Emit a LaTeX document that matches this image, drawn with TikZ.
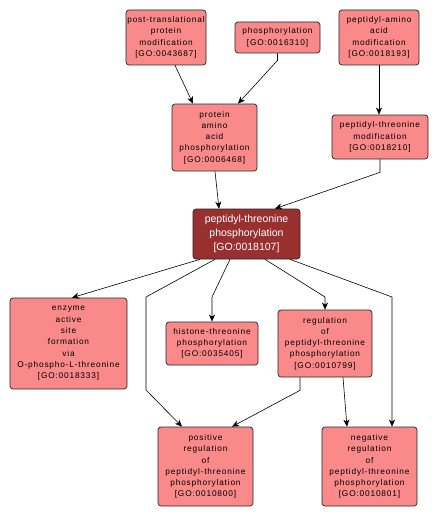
\documentclass[tikz,border=0pt]{standalone}
\usepackage{fontspec}
\setmainfont{Liberation Sans}
\newfontfamily\lblfont[LetterSpace=10]{Liberation Sans}
\usetikzlibrary{arrows.meta}
\definecolor{gofill}{RGB}{250,137,137}
\definecolor{godark}{RGB}{153,48,48}
\tikzset{
  goterm/.style={draw=black!85, line width=0.7pt, fill=gofill, rounded corners=3pt,
    align=center, inner sep=0pt, font=\lblfont\fontsize{8.3}{11.3}\selectfont},
  goroot/.style={draw=black!85, line width=0.7pt, fill=godark, rounded corners=3pt,
    align=center, inner sep=0pt, text=white, font=\fontsize{10.5}{14}\selectfont},
  arr/.style={draw=black, line width=0.6pt, -{Stealth[length=7pt,width=6pt,inset=2pt]}}
}
\begin{document}
\begin{tikzpicture}[x=1pt,y=-1pt]
\useasboundingbox (0,0) rectangle (438,519);
\fill[white] (0,0) rectangle (438,519);
\node[goterm, minimum width=80, minimum height=55] (n1) at (166,37.5) {post-translational\\protein\\modification\\{[}GO:0043687{]}};
\node[goterm, minimum width=85, minimum height=31] (n2) at (277.5,37.5) {phosphorylation\\{[}GO:0016310{]}};
\node[goterm, minimum width=80, minimum height=55] (n3) at (379,37.5) {peptidyl-amino\\acid\\modification\\{[}GO:0018193{]}};
\node[goterm, minimum width=85, minimum height=67] (n4) at (214.5,137.5) {protein\\amino\\acid\\phosphorylation\\{[}GO:0006468{]}};
\node[goterm, minimum width=96, minimum height=44] (n5) at (380,137) {peptidyl-threonine\\modification\\{[}GO:0018210{]}};
\node[goroot, minimum width=107, minimum height=50] (n6) at (246.5,234) {peptidyl-threonine\\phosphorylation\\{[}GO:0018107{]}};
\node[goterm, minimum width=117, minimum height=91] (n7) at (68.5,343.5) {enzyme\\active\\site\\formation\\via\\O-phospho-L-threonine\\{[}GO:0018333{]}};
\node[goterm, minimum width=92, minimum height=43] (n8) at (212,343.5) {histone-threonine\\phosphorylation\\{[}GO:0035405{]}};
\node[goterm, minimum width=94, minimum height=67] (n9) at (325,343.5) {regulation\\of\\peptidyl-threonine\\phosphorylation\\{[}GO:0010799{]}};
\node[goterm, minimum width=95, minimum height=79] (n10) at (205.5,466.5) {positive\\regulation\\of\\peptidyl-threonine\\phosphorylation\\{[}GO:0010800{]}};
\node[goterm, minimum width=95, minimum height=79] (n11) at (369.5,466.5) {negative\\regulation\\of\\peptidyl-threonine\\phosphorylation\\{[}GO:0010801{]}};
% edges
\draw[arr] ([xshift=9]n1.south) -- ([xshift=-21.5]n4.north);
\draw[arr] (n2.south) -- ++(0,7) -- ([xshift=23.5]n4.north);
\draw[arr] (n3.south) -- (n5.north -| n3.south);
\draw[arr] ([xshift=0.5]n4.south) -- ([xshift=-27.5]n6.north);
\draw[arr] (n5.south) -- ++(0,13) -- ([xshift=28.5]n6.north);
\draw[arr] ([xshift=-46.5]n6.south) -- ([xshift=3.5]n7.north);
\draw[arr] ([xshift=-31.5]n6.south) -- (146,297) -- (146,390) -- ([xshift=-23.5]n10.north);
\draw[arr] ([xshift=-16.5]n6.south) -- (212,297) -- (n8.north);
\draw[arr] ([xshift=18.5]n6.south) -- (325,297) -- (n9.north);
\draw[arr] ([xshift=43.5]n6.south) -- (392,297) -- ([xshift=22.5]n11.north);
\draw[arr] ([xshift=-25]n9.south) -- ++(0,13) -- ([xshift=26.5]n10.north);
\draw[arr] ([xshift=18]n9.south) -- ([xshift=-22.5]n11.north);
\end{tikzpicture}
\end{document}
